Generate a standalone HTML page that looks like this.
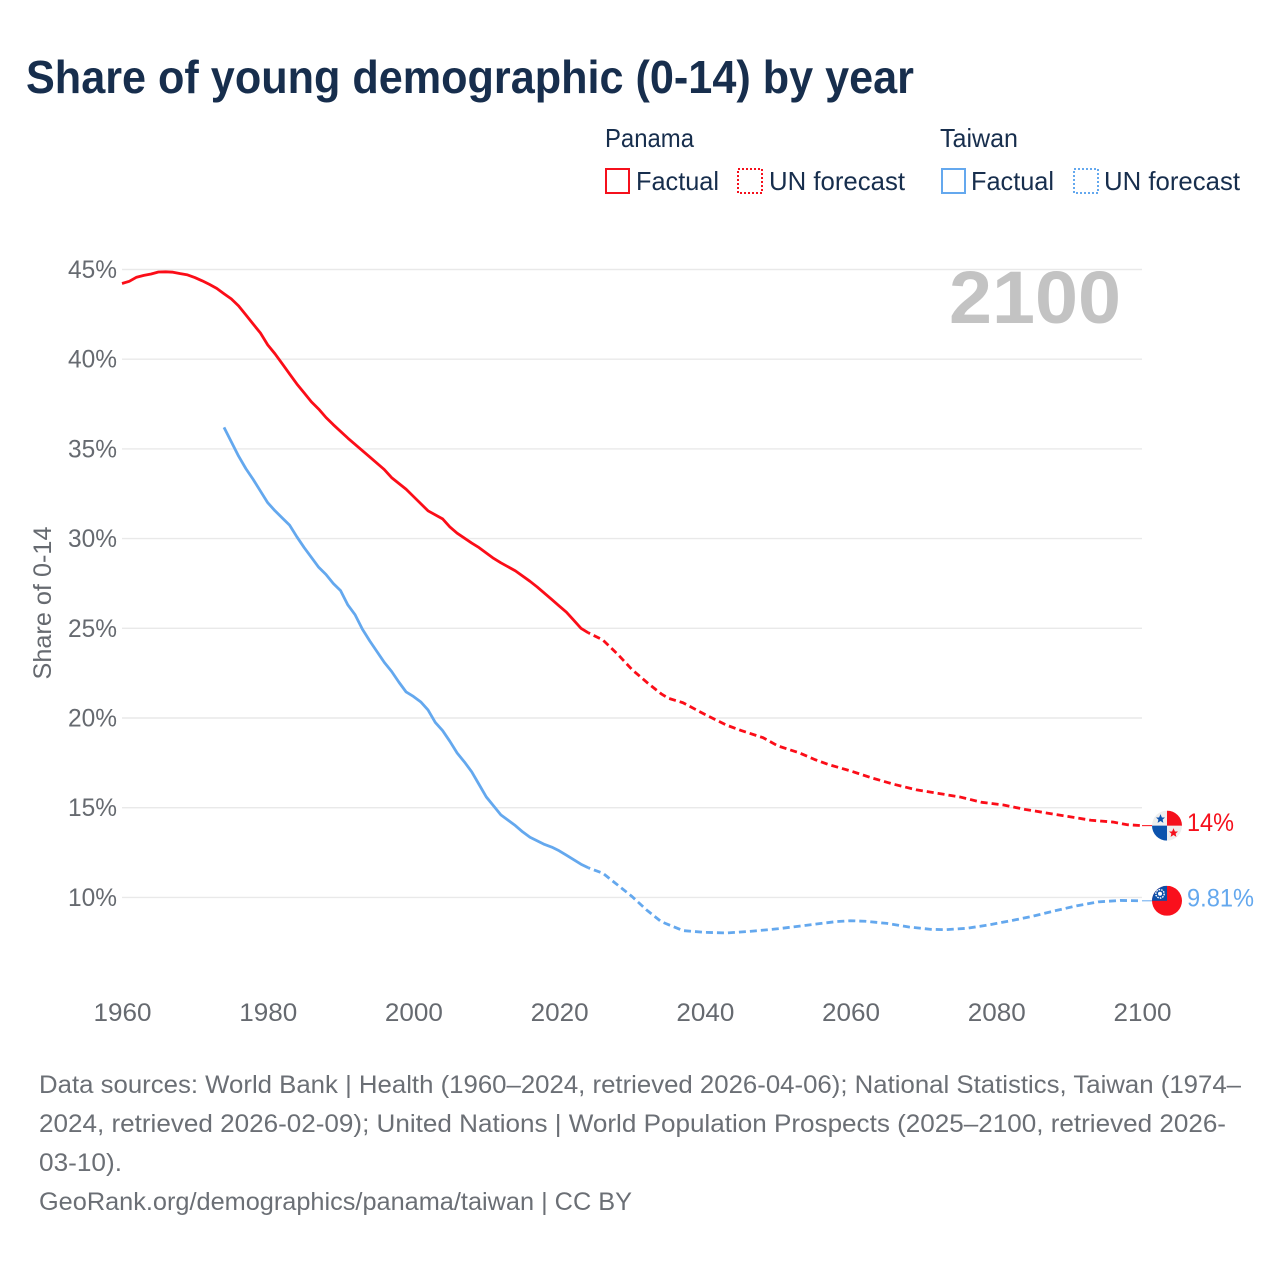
<!DOCTYPE html>
<html lang="en">
<head>
<meta charset="utf-8">
<title>Share of young demographic (0-14) by year</title>
<style>
html,body{margin:0;padding:0;background:#fff;width:1280px;height:1280px;overflow:hidden}
svg{display:block}
text{font-family:"Liberation Sans",sans-serif}
</style>
</head>
<body>
<svg id="chart" width="1280" height="1280" viewBox="0 0 1280 1280" xmlns="http://www.w3.org/2000/svg">
  <rect width="1280" height="1280" fill="#ffffff"/>
  <text x="26" y="93" font-size="46" font-weight="700" fill="#172e4d" textLength="888" lengthAdjust="spacingAndGlyphs">Share of young demographic (0-14) by year</text>

  <g>
    <text x="605" y="147" font-size="26" fill="#172e4d" textLength="89" lengthAdjust="spacingAndGlyphs">Panama</text>
    <rect x="606" y="169" width="23" height="24" fill="none" stroke="#f5101c" stroke-width="2"/>
    <text x="636" y="190" font-size="26" fill="#172e4d" textLength="83" lengthAdjust="spacingAndGlyphs">Factual</text>
    <rect x="738" y="169" width="24" height="24" fill="none" stroke="#f5101c" stroke-width="2" stroke-dasharray="2 2"/>
    <text x="769" y="190" font-size="26" fill="#172e4d" textLength="136" lengthAdjust="spacingAndGlyphs">UN forecast</text>

    <text x="940" y="147" font-size="26" fill="#172e4d" textLength="78" lengthAdjust="spacingAndGlyphs">Taiwan</text>
    <rect x="942" y="169" width="23" height="24" fill="none" stroke="#64a8ee" stroke-width="2"/>
    <text x="971" y="190" font-size="26" fill="#172e4d" textLength="83" lengthAdjust="spacingAndGlyphs">Factual</text>
    <rect x="1074" y="169" width="24" height="24" fill="none" stroke="#64a8ee" stroke-width="2" stroke-dasharray="2 2"/>
    <text x="1104" y="190" font-size="26" fill="#172e4d" textLength="136" lengthAdjust="spacingAndGlyphs">UN forecast</text>
  </g>

  <g id="grid"></g>
  <g id="yticks"></g>
  <g id="xticks"></g>
  <text transform="translate(51,603) rotate(-90)" text-anchor="middle" font-size="25" fill="#666a70" textLength="153" lengthAdjust="spacingAndGlyphs">Share of 0-14</text>
  <text id="year-label" x="1121" y="323" text-anchor="end" font-size="74" font-weight="700" fill="#c3c3c3" textLength="172" lengthAdjust="spacingAndGlyphs"></text>
  <g id="series"></g>

  <g id="flag-panama">
    <clipPath id="clip-pa"><circle cx="0" cy="0" r="15"/></clipPath>
    <g clip-path="url(#clip-pa)">
      <rect x="-15" y="-15" width="30" height="30" fill="#eeeeee"/>
      <rect x="0" y="-15" width="15" height="15" fill="#f5101c"/>
      <rect x="-15" y="0" width="15" height="15" fill="#0c53ad"/>
      <polygon points="-6.5,-11.5 -5.1,-8.2 -2,-8.2 -4.4,-6 -3.6,-2.8 -6.5,-4.6 -9.4,-2.8 -8.6,-6 -11,-8.2 -7.9,-8.2" fill="#0c53ad"/>
      <polygon points="6.5,2.5 7.9,5.8 11,5.8 8.6,8 9.4,11.2 6.5,9.4 3.6,11.2 4.4,8 2,5.8 5.1,5.8" fill="#f5101c"/>
    </g>
  </g>
  <g id="flag-taiwan">
    <clipPath id="clip-tw"><circle cx="0" cy="0" r="15"/></clipPath>
    <g clip-path="url(#clip-tw)">
      <rect x="-15" y="-15" width="30" height="30" fill="#f9101c"/>
      <rect x="-15" y="-15" width="15" height="15" fill="#0c4ea8"/>
      <circle cx="-7" cy="-7" r="4.2" fill="none" stroke="#ffffff" stroke-width="1.4" stroke-dasharray="1.6 1"/>
      <circle cx="-7" cy="-7" r="2" fill="#ffffff"/>
    </g>
  </g>
  <text id="label-panama" x="1187" font-size="25" fill="#f5101c" textLength="47" lengthAdjust="spacingAndGlyphs"></text>
  <text id="label-taiwan" x="1187" font-size="25" fill="#64a8ee" textLength="67" lengthAdjust="spacingAndGlyphs"></text>

  <g fill="#6b6f75" font-size="25">
    <text x="39" y="1093" textLength="1202" lengthAdjust="spacingAndGlyphs">Data sources: World Bank | Health (1960–2024, retrieved 2026-04-06); National Statistics, Taiwan (1974–</text>
    <text x="39" y="1132" textLength="1187" lengthAdjust="spacingAndGlyphs">2024, retrieved 2026-02-09); United Nations | World Population Prospects (2025–2100, retrieved 2026-</text>
    <text x="39" y="1171" textLength="83" lengthAdjust="spacingAndGlyphs">03-10).</text>
    <text x="39" y="1210" textLength="593" lengthAdjust="spacingAndGlyphs">GeoRank.org/demographics/panama/taiwan | CC BY</text>
  </g>
</svg>
<script>
const yTicks = [10, 15, 20, 25, 30, 35, 40, 45];
const xTicks = [1960, 1980, 2000, 2020, 2040, 2060, 2080, 2100];

const panamaFactualYears = [1960,1961,1962,1963,1964,1965,1966,1967,1968,1969,1970,1971,1972,1973,1974,1975,1976,1977,1978,1979,1980,1981,1982,1983,1984,1985,1986,1987,1988,1989,1991,1993,1994,1996,1997,1999,2000,2002,2004,2005,2006,2008,2009,2011,2012,2014,2016,2017,2018,2019,2020,2021,2022,2023,2024];
const panamaFactualValues = [44.22,44.34,44.57,44.67,44.75,44.86,44.87,44.85,44.77,44.70,44.55,44.37,44.17,43.95,43.65,43.36,42.97,42.47,41.96,41.46,40.80,40.30,39.74,39.18,38.62,38.12,37.62,37.22,36.75,36.35,35.60,34.90,34.55,33.85,33.40,32.75,32.35,31.55,31.10,30.65,30.30,29.75,29.50,28.90,28.65,28.20,27.62,27.30,26.95,26.60,26.25,25.90,25.45,25.00,24.75];
const panamaForecastYears = [2024,2026,2028,2030,2032,2034,2035,2037,2040,2043,2045,2048,2050,2053,2055,2057,2060,2063,2066,2069,2072,2075,2078,2081,2084,2087,2090,2093,2096,2098,2100];
const panamaForecastValues = [24.75,24.35,23.57,22.70,22.00,21.35,21.10,20.85,20.20,19.60,19.30,18.90,18.45,18.05,17.70,17.40,17.05,16.65,16.30,16.00,15.80,15.60,15.30,15.15,14.90,14.70,14.50,14.30,14.20,14.05,14.00];

const taiwanFactualYears = [1974,1975,1976,1977,1978,1979,1980,1981,1982,1983,1984,1985,1986,1987,1988,1989,1990,1991,1992,1993,1994,1995,1996,1997,1998,1999,2000,2001,2002,2003,2004,2005,2006,2007,2008,2009,2010,2011,2012,2013,2014,2015,2016,2017,2018,2019,2020,2021,2022,2023,2024];
const taiwanFactualValues = [36.20,35.40,34.60,33.90,33.30,32.65,32.00,31.55,31.15,30.75,30.10,29.50,28.95,28.40,28.00,27.50,27.10,26.30,25.75,24.95,24.30,23.70,23.10,22.60,22.00,21.45,21.20,20.90,20.45,19.75,19.30,18.70,18.05,17.55,17.00,16.30,15.60,15.10,14.60,14.30,14.00,13.65,13.35,13.15,12.95,12.80,12.60,12.35,12.10,11.85,11.65];
const taiwanForecastYears = [2024,2026,2028,2030,2032,2034,2037,2040,2043,2046,2050,2054,2058,2060,2062,2065,2068,2071,2073,2076,2079,2082,2085,2088,2091,2094,2097,2100];
const taiwanForecastValues = [11.65,11.35,10.70,10.05,9.30,8.65,8.15,8.05,8.02,8.10,8.25,8.45,8.65,8.70,8.67,8.55,8.35,8.22,8.20,8.28,8.47,8.70,8.95,9.25,9.53,9.75,9.83,9.81];

const panamaColor = '#fb0d18';
const taiwanColor = '#64a8ee';
const ns = document.getElementById('chart').namespaceURI;

function xScale(year) { return 122 + (year - 1960) * (1142 - 122) / 140; }
function yScale(v) { return 897.4 - (v - 10) * 17.94; }
function pointsOf(years, values) {
  return years.map(function (yr, i) { return xScale(yr).toFixed(2) + ',' + yScale(values[i]).toFixed(2); }).join(' ');
}

const grid = document.getElementById('grid');
const yTickGroup = document.getElementById('yticks');
yTicks.forEach(function (t) {
  const line = document.createElementNS(ns, 'line');
  line.setAttribute('x1', xScale(1960));
  line.setAttribute('x2', xScale(2100));
  line.setAttribute('y1', yScale(t));
  line.setAttribute('y2', yScale(t));
  line.setAttribute('stroke', '#e9e9e9');
  line.setAttribute('stroke-width', '1.4');
  
  
  grid.appendChild(line);
  const label = document.createElementNS(ns, 'text');
  label.setAttribute('x', 68);
  label.setAttribute('y', yScale(t) + 8.5);
  label.setAttribute('font-size', '25');
  label.setAttribute('fill', '#666a70');
  label.setAttribute('textLength', '49');
  label.setAttribute('lengthAdjust', 'spacingAndGlyphs');
  
  
  label.textContent = t + '%';
  yTickGroup.appendChild(label);
});

const xTickGroup = document.getElementById('xticks');
xTicks.forEach(function (t) {
  const label = document.createElementNS(ns, 'text');
  label.setAttribute('x', xScale(t) + 0.5);
  label.setAttribute('y', 1021);
  label.setAttribute('text-anchor', 'middle');
  label.setAttribute('font-size', '25');
  label.setAttribute('fill', '#666a70');
  label.setAttribute('textLength', '58');
  label.setAttribute('lengthAdjust', 'spacingAndGlyphs');
  
  
  label.textContent = t;
  xTickGroup.appendChild(label);
});

const seriesGroup = document.getElementById('series');
function drawLine(years, values, color, dashed, name) {
  const line = document.createElementNS(ns, 'polyline');
  line.setAttribute('points', pointsOf(years, values));
  line.setAttribute('fill', 'none');
  line.setAttribute('stroke', color);
  line.setAttribute('stroke-width', '2.8');
  line.setAttribute('stroke-linejoin', 'round');
  if (dashed) {
    line.setAttribute('stroke-dasharray', '7 4');
    line.setAttribute('stroke-dashoffset', '-6');
  }
  
  
  seriesGroup.appendChild(line);
}
drawLine(panamaFactualYears, panamaFactualValues, panamaColor, false, 'panama-factual-line');
drawLine(panamaForecastYears, panamaForecastValues, panamaColor, true, 'panama-forecast-line');
drawLine(taiwanFactualYears, taiwanFactualValues, taiwanColor, false, 'taiwan-factual-line');
drawLine(taiwanForecastYears, taiwanForecastValues, taiwanColor, true, 'taiwan-forecast-line');

function drawLeader(value, color, name) {
  const line = document.createElementNS(ns, 'line');
  line.setAttribute('x1', xScale(2100));
  line.setAttribute('x2', 1153);
  line.setAttribute('y1', yScale(value));
  line.setAttribute('y2', yScale(value));
  line.setAttribute('stroke', color);
  line.setAttribute('stroke-width', '1');
  
  
  seriesGroup.appendChild(line);
}
const panamaLast = panamaForecastValues[panamaForecastValues.length - 1];
const taiwanLast = taiwanForecastValues[taiwanForecastValues.length - 1];
drawLeader(panamaLast, panamaColor, 'panama-leader-line');
drawLeader(taiwanLast, taiwanColor, 'taiwan-leader-line');

document.getElementById('flag-panama').setAttribute('transform', 'translate(1167,' + yScale(panamaLast) + ')');
document.getElementById('flag-taiwan').setAttribute('transform', 'translate(1167,' + yScale(taiwanLast) + ')');
const labelPanama = document.getElementById('label-panama');
labelPanama.setAttribute('y', yScale(panamaLast) + 5.5);
labelPanama.textContent = panamaLast + '%';
const labelTaiwan = document.getElementById('label-taiwan');
labelTaiwan.setAttribute('y', yScale(taiwanLast) + 5.5);
labelTaiwan.textContent = taiwanLast + '%';
document.getElementById('year-label').textContent = panamaForecastYears[panamaForecastYears.length - 1];
</script>
</body>
</html>
